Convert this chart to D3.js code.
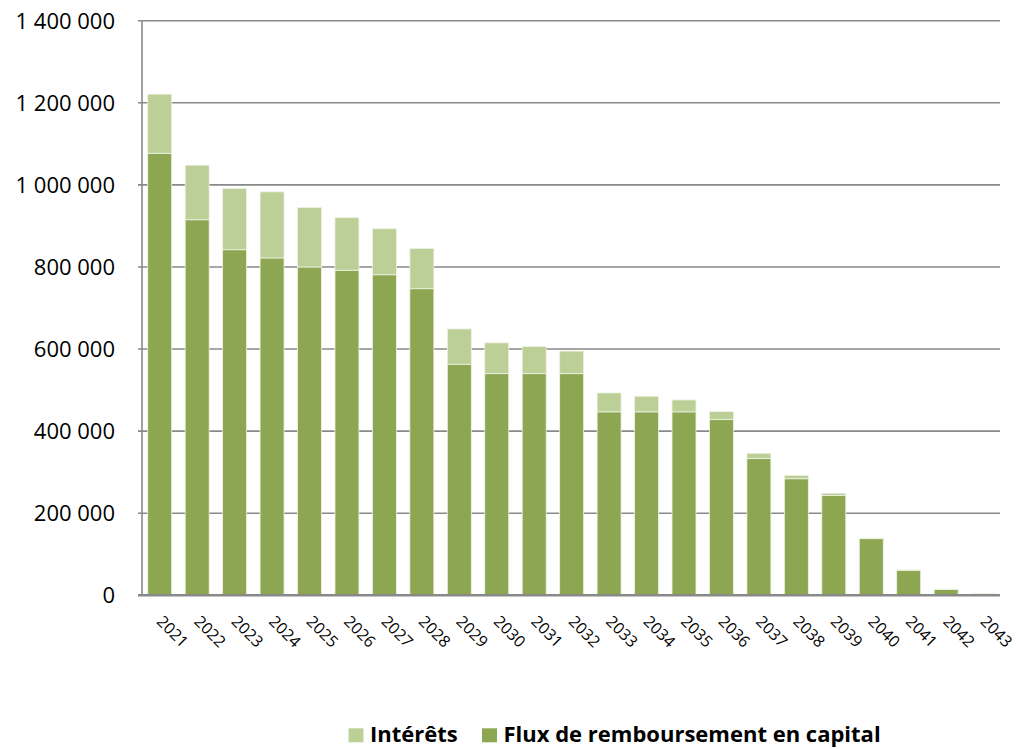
<!DOCTYPE html>
<html>
<head>
<meta charset="utf-8">
<script src="https://cdn.jsdelivr.net/npm/d3@7"></script>
<style>
  html, body { margin: 0; padding: 0; background: #fff; }
  svg text { font-family: "Open Sans", "Noto Sans", sans-serif; fill: #000; }
</style>
</head>
<body>
<svg id="chart" width="1018" height="749"></svg>
<script>
// Annual debt service schedule: capital repayment and interest
const years = ["2021","2022","2023","2024","2025","2026","2027","2028","2029","2030","2031","2032",
               "2033","2034","2035","2036","2037","2038","2039","2040","2041","2042","2043"];
const capital = [1077000, 915000, 842000, 822000, 800000, 792000, 781000, 747000, 563000, 540000, 540000, 540000,
                 447000, 447000, 447000, 428000, 333000, 284000, 243000, 138000, 61000, 14000, 3000];
const interets = [144000, 133000, 149000, 161000, 145000, 128000, 112000, 98000, 86000, 75000, 66000, 55000,
                  46000, 38000, 29000, 19500, 13000, 8300, 5800, 1500, 800, 500, 500];
const yTicks = [0, 200000, 400000, 600000, 800000, 1000000, 1200000, 1400000];
const seriesNames = ["Intérêts", "Flux de remboursement en capital"];

const colCapital = "#8ca651";
const colInterets = "#bbcf97";

const svg = d3.select("#chart");
const plot = { left: 142, right: 1001.3, top: 20.7, bottom: 595.3, gridEnd: 1000 };

const x = d3.scaleBand().domain(years).range([plot.left, plot.right]).paddingInner(0.36).paddingOuter(0.153);
const y = d3.scaleLinear().domain([0, 1400000]).range([plot.bottom, plot.top]);

const fmt = v => d3.format(",")(v).replace(/,/g, " ");

// horizontal gridlines
svg.append("g").selectAll("line").data(yTicks.filter(d => d > 0)).join("line")
  .attr("x1", plot.left - 4).attr("x2", plot.gridEnd)
  .attr("y1", d => y(d)).attr("y2", d => y(d))
  .attr("stroke", "#898989").attr("stroke-width", 1.6);

// y tick labels
svg.append("g").selectAll("text").data(yTicks).join("text")
  .attr("x", 115).attr("y", d => y(d)).attr("dy", "0.36em")
  .attr("text-anchor", "end").attr("font-size", 22)
  .text(d => fmt(d));

// stacked bars
const data = years.map((yr, i) => ({ yr, cap: capital[i], int: interets[i] }));
const bars = svg.append("g");
bars.selectAll("rect.cap").data(data).join("rect").attr("class", "cap")
  .attr("x", d => x(d.yr)).attr("width", x.bandwidth())
  .attr("y", d => y(d.cap)).attr("height", d => y(0) - y(d.cap))
  .attr("fill", colCapital).attr("stroke", "#eef3e4").attr("stroke-width", 0.8);
bars.selectAll("rect.int").data(data).join("rect").attr("class", "int")
  .attr("x", d => x(d.yr)).attr("width", x.bandwidth())
  .attr("y", d => y(d.cap + d.int)).attr("height", d => y(d.cap) - y(d.cap + d.int))
  .attr("fill", colInterets).attr("stroke", "#eef3e4").attr("stroke-width", 0.8);

// axis lines
svg.append("line").attr("x1", plot.left).attr("x2", plot.left)
  .attr("y1", plot.top).attr("y2", plot.bottom)
  .attr("stroke", "#898989").attr("stroke-width", 1.6);
svg.append("line").attr("x1", plot.left - 4).attr("x2", plot.gridEnd)
  .attr("y1", y(0)).attr("y2", y(0))
  .attr("stroke", "#898989").attr("stroke-width", 2.4);

// rotated year labels
svg.append("g").selectAll("text").data(years).join("text")
  .attr("transform", d => `translate(${x(d) + x.bandwidth() / 2 - 4},${622.5}) rotate(45)`)
  .attr("text-anchor", "start").attr("font-size", 16)
  .text(d => d);

// legend
const legend = svg.append("g");
const items = [
  { name: seriesNames[0], color: colInterets, x: 348.5 },
  { name: seriesNames[1], color: colCapital, x: 482 }
];
items.forEach(it => {
  legend.append("rect").attr("x", it.x).attr("y", 728.3).attr("width", 15).attr("height", 14).attr("fill", it.color);
  legend.append("text").attr("x", it.x + 21.5).attr("y", 742.3)
    .attr("font-size", 22).attr("font-weight", "bold").text(it.name);
});
</script>
</body>
</html>
